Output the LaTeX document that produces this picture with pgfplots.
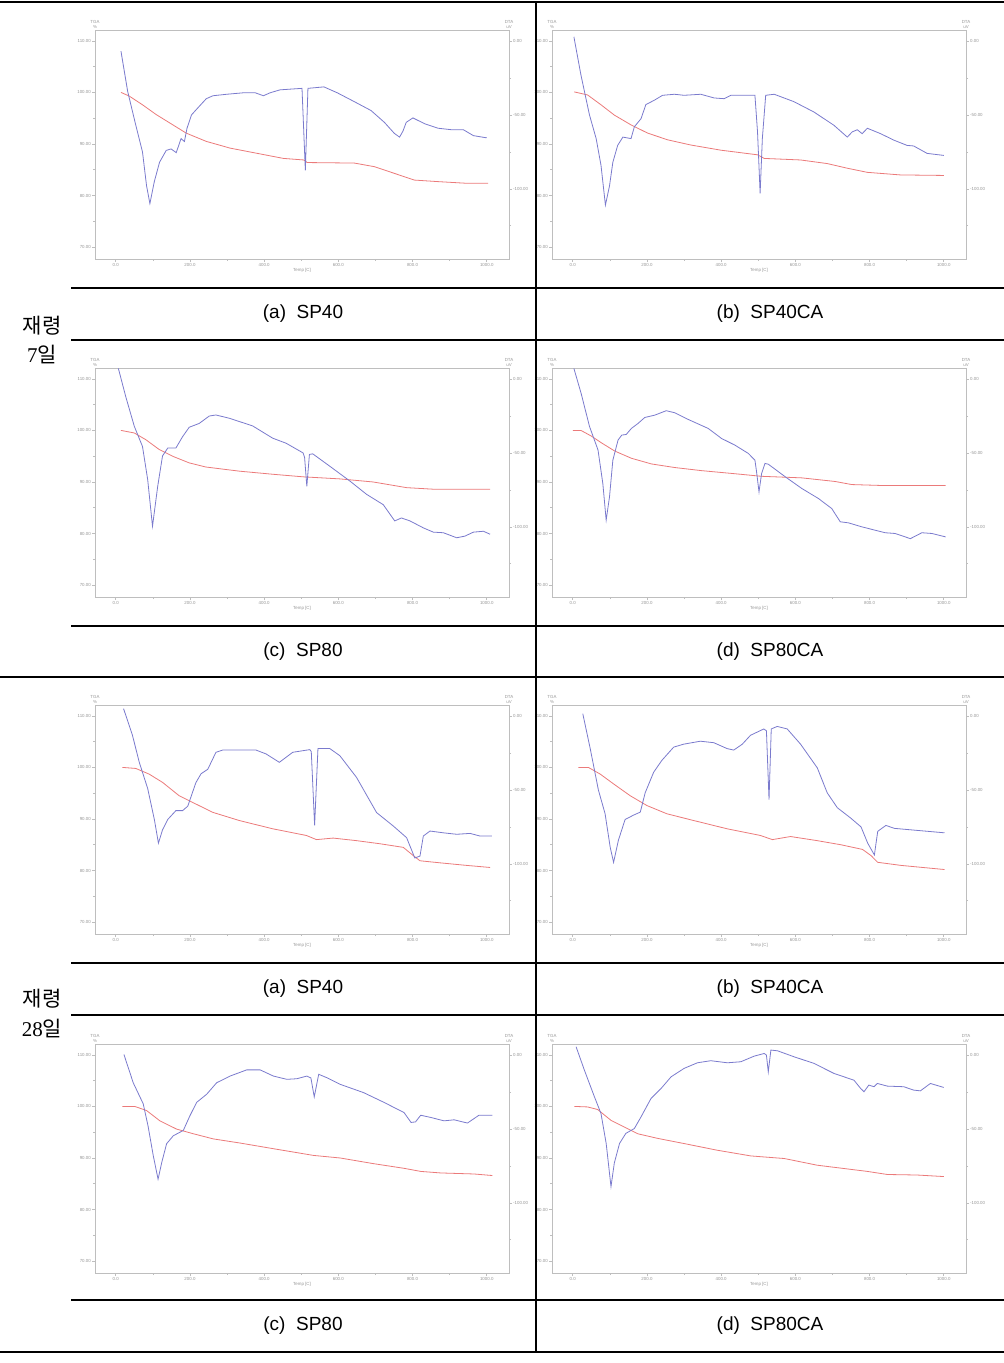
\documentclass[border=0pt]{standalone}
\usepackage{fontspec}
\setmainfont{Liberation Sans}
\newfontfamily\cjk{Noto Sans CJK KR}
\newfontfamily\serifdig{Liberation Serif}
\usepackage{pgfplots}
\pgfplotsset{compat=1.18}
\definecolor{axgray}{RGB}{190,190,190}
\definecolor{lblgray}{RGB}{150,150,150}
\definecolor{tgared}{RGB}{235,122,122}
\definecolor{dtablue}{RGB}{122,122,205}
\newcommand\tinyfont{\fontsize{2.2}{2.6}\selectfont}

\pgfplotsset{
 panelbase/.style={scale only axis, width=207pt, height=114.5pt, xmin=-56, xmax=1060, anchor=south west, clip=false,
   axis line style={draw=axgray, line width=0.35pt},
   every tick/.style={draw=axgray, line width=0.3pt},
   tick align=outside, major tick length=1.5pt, minor tick length=1pt,
   ticklabel style={font=\tinyfont, text=lblgray, inner sep=0.4pt},
   /pgf/number format/assume math mode=true,
   /pgf/number format/1000 sep={},
 },
 tga/.style={panelbase, ymin=67.7, ymax=112.1,
   xtick={0,200,400,600,800,1000}, minor xtick={100,300,500,700,900},
   ytick={70,80,90,100,110}, minor ytick={75,85,95,105},
   xtick pos=bottom, ytick pos=left,
   xticklabel={\pgfmathprintnumber[fixed,fixed zerofill,precision=1]{\tick}},
   yticklabel={\pgfmathprintnumber[fixed,fixed zerofill,precision=2]{\tick}},
   xlabel={Temp [C]}, xlabel style={font=\tinyfont, text=lblgray, inner sep=0.5pt},
 },
 dta/.style={panelbase, ymin=-147.5, ymax=7.5, axis y line*=right, axis x line=none,
   ytick={0,-50,-100}, minor ytick={-25,-75,-125},
   yticklabel={\pgfmathprintnumber[fixed,fixed zerofill,precision=2]{\tick}},
 },
}

\newcommand\panel[4]{%
 \begin{axis}[tga, at={(#1,#2)}]
   \addplot[tgared, line width=0.4pt, mark=none] coordinates {#3};
   \node[font=\tinyfont, text=lblgray, align=center, anchor=south, inner sep=0.6pt] at (rel axis cs:0,1) {TGA\\\%};
 \end{axis}
 \begin{axis}[dta, at={(#1,#2)}]
   \addplot[dtablue, line width=0.4pt, mark=none] coordinates {#4};
   \node[font=\tinyfont, text=lblgray, align=center, anchor=south, inner sep=0.6pt] at (rel axis cs:1,1) {DTA\\uV};
 \end{axis}}

\begin{document}
\begin{tikzpicture}
\path[use as bounding box] (0,0) rectangle (502pt,-681.5pt);

% ---------- 7 days ----------
\panel{47.5pt}{-129.5pt}
{(14,100.0)(36,99.3)(72,97.6)(109,95.7)(145,94.1)(190,92.1)(244,90.5)(308,89.2)(380,88.2)(452,87.2)(507,86.9)(516,86.4)(643,86.3)(697,85.6)(751,84.3)(805,83.0)(869,82.7)(941,82.4)(1004,82.4)}
{(14,-6.8)(32,-34)(54,-57)(72,-75)(83,-98)(92,-110)(104,-95)(118,-82)(136,-74)(149,-73)(163,-75.5)(176,-66)(185,-68)(192,-59)(204,-50)(222,-45)(244,-39)(262,-37)(299,-36)(344,-35)(376,-35)(398,-37)(416,-35)(443,-33)(502,-32)(511,-87.5)(518,-32)(561,-31)(597,-35)(643,-41)(688,-47)(724,-55)(751,-62.5)(765,-65)(774,-61)(783,-55)(801,-52)(833,-56)(869,-59)(905,-60)(937,-60)(964,-64)(1000,-65.5)}

\panel{276pt}{-129.5pt}
{(4,100.1)(40,99.5)(76,97.6)(112,95.6)(157,93.7)(202,92.1)(256,90.8)(318,89.8)(399,88.8)(498,87.9)(516,87.2)(614,86.9)(686,86.2)(740,85.3)(794,84.5)(883,84.0)(1000,83.9)}
{(3,2.9)(22,-23)(45,-50)(63,-66)(76,-84)(88,-111)(99,-98)(108,-82)(121,-70.6)(135,-65)(157,-66)(166,-58)(184,-52.5)(197,-43)(220,-40)(242,-36.7)(274,-36)(300,-36.7)(345,-36)(381,-38.5)(408,-39)(426,-36.7)(491,-36.7)(498,-61.5)(505,-103)(511,-66)(520,-36.7)(543,-36)(596,-41)(650,-48)(704,-57)(740,-65)(753,-61.5)(767,-60)(780,-62.7)(794,-59)(830,-62.7)(865,-67)(901,-70.6)(919,-71)(955,-76)(1000,-77.4)}

\panel{47.5pt}{-298.5pt}
{(14,100.0)(50,99.5)(81,98.2)(117,96.3)(153,95.0)(198,93.7)(243,92.9)(333,92.1)(423,91.5)(505,91.0)(604,90.6)(694,90.0)(784,88.9)(856,88.6)(1009,88.6)}
{(7,7.2)(27,-12)(50,-32)(72,-45.6)(86,-68)(99,-99.6)(113,-72.6)(126,-52)(140,-46.7)(162,-46.7)(180,-39)(198,-32.6)(225,-30)(252,-25)(270,-24.3)(306,-26.5)(369,-31.7)(423,-40)(459,-43.4)(505,-50)(509,-53)(515,-72.6)(522,-51)(531,-50.6)(577,-59)(631,-69)(676,-78)(721,-85)(752,-96)(770,-94)(793,-96)(829,-100.7)(856,-103.6)(883,-104)(919,-107.4)(941,-106.3)(964,-103.6)(991,-103)(1009,-105)}

\panel{276pt}{-298.5pt}
{(0,100)(22,100)(50,98.9)(77,97.6)(113,96.0)(158,94.6)(212,93.5)(275,92.8)(347,92.2)(437,91.6)(509,91.1)(617,90.8)(707,90.1)(752,89.5)(842,89.3)(1005,89.3)}
{(3,7.2)(22.5,-9.7)(45,-32)(68,-48)(81,-70.7)(90,-95.5)(99,-79.7)(108,-54.9)(122,-41.3)(132,-37.9)(144,-37.5)(158,-33.4)(176,-30)(194,-26)(221,-24.4)(252,-21.4)(275,-22.8)(311,-27.3)(365,-33.4)(401,-40.2)(437,-44.7)(473,-50.3)(491,-54.9)(495,-62)(502,-76.3)(509,-63.9)(518,-57.1)(527,-57.6)(572,-66)(617,-74)(662,-80.8)(698,-87.6)(721,-96.6)(743,-97.3)(779,-100)(842,-104)(869,-104.5)(910,-108)(941,-104)(968,-104.5)(1005,-106.8)}

% ---------- 28 days ----------
\panel{47.5pt}{-467pt}
{(18,100)(54,99.8)(90,98.7)(126,97.1)(171,94.5)(216,92.9)(261,91.3)(333,89.7)(423,88.1)(514,86.8)(541,86.0)(586,86.3)(649,85.8)(712,85.2)(775,84.5)(802,82.9)(820,81.9)(874,81.5)(946,81.0)(1009,80.6)}
{(21,5)(45,-13)(63,-31)(86,-49)(104,-70)(115,-86)(126,-77)(140,-70)(162,-64)(180,-64)(194,-61)(216,-45)(230,-39)(248,-36)(270,-24.5)(288,-23)(378,-23)(405,-25.6)(441,-31.3)(477,-24.5)(523,-22.7)(527,-24)(536,-74)(545,-22)(577,-22)(604,-26.8)(649,-41.5)(703,-65.3)(748,-74.4)(784,-82.3)(806,-96)(820,-94.8)(829,-81.2)(847,-77.8)(883,-79)(919,-80)(955,-79.4)(982,-81.2)(1014,-81.2)}

\panel{276pt}{-467pt}
{(15,100)(42,100)(74,98.7)(110,96.8)(155,94.5)(200,92.6)(254,91.0)(326,89.7)(416,88.1)(506,86.8)(538,86.0)(587,86.6)(659,85.8)(723,85.0)(781,84.1)(804,82.9)(822,81.6)(885,81.0)(1002,80.2)}
{(27,1.6)(47,-22)(69,-50)(87,-66)(101,-89)(110,-99)(123,-84)(141,-70)(164,-67)(182,-65)(195,-52)(218,-38)(240,-30)(272,-21)(299,-19)(344,-17)(380,-18)(416,-22)(434,-23)(457,-19)(479,-13)(515,-8.7)(522,-10)(529,-56.6)(535,-8.7)(551,-7)(578,-8.7)(614,-19)(659,-35)(686,-52)(713,-62)(749,-69)(777,-75)(795,-86)(813,-94)(822,-78)(844,-74)(867,-76)(912,-77)(957,-78)(1002,-79)}

\panel{47.5pt}{-636.5pt}
{(18,100)(51,100)(83,99.2)(119,97.2)(164,95.6)(209,94.7)(263,93.7)(335,92.9)(425,91.8)(533,90.5)(605,90.0)(695,88.9)(777,88.0)(822,87.4)(876,87.1)(966,86.9)(1015,86.6)}
{(22,0.4)(47,-18.7)(74,-33)(87,-48)(101,-68)(114,-84)(124,-72.6)(137,-60)(155,-54.6)(182,-51)(200,-41)(218,-32)(245,-26.5)(272,-18.7)(308,-14.2)(353,-10)(389,-10)(425,-14.2)(461,-16.4)(488,-16)(515,-14.2)(526,-15.5)(535,-28.3)(547,-13)(569,-15.3)(605,-19.8)(668,-25.4)(723,-32)(777,-38.9)(796,-45.6)(808,-45.2)(822,-40.7)(849,-42.2)(885,-44.5)(912,-43.8)(948,-46)(979,-40.7)(1015,-40.7)}

\panel{276pt}{-636.5pt}
{(4,100)(40,99.9)(67,99.4)(103,97.3)(139,96.0)(175,94.7)(229,93.8)(300,92.8)(390,91.5)(480,90.4)(570,89.9)(659,88.6)(749,87.8)(794,87.4)(848,86.8)(928,86.7)(1000,86.4)}
{(9,5.6)(31,-10)(58,-28)(76,-39.5)(90,-59.8)(103,-89)(112,-73)(126,-59.8)(143,-53)(166,-49.7)(184,-41.8)(211,-29.3)(238,-22.6)(265,-14.7)(300,-9)(336,-5.2)(372,-3.8)(417,-5.2)(453,-4.5)(489,-0.7)(516,1.1)(522,0)(527,-11.3)(534,3.4)(552,2.9)(596,-1.1)(650,-5.6)(704,-12.4)(758,-17)(776,-22.6)(785,-24.8)(798,-20.3)(812,-21.4)(821,-19.2)(848,-21)(892,-21.4)(919,-23.7)(937,-24.2)(964,-19.2)(1000,-21.9)}

% ---------- table rules and text ----------
\begin{scope}[x=0.5pt,y=-0.5pt]
 \draw[line width=0.7pt] (0,2)--(1004,2);
 \draw[line width=0.7pt] (0,677)--(1004,677);
 \draw[line width=0.7pt] (0,1352)--(1004,1352);
 \foreach \yy in {288,340,626,963,1015,1300}
   \draw[line width=0.7pt] (71,\yy)--(1004,\yy);
 \draw[line width=0.7pt] (536,2)--(536,1352);
 \begin{scope}[every node/.style={font=\fontsize{9.5}{11}\selectfont, inner sep=0pt}]
  \node at (303,314) {(a)\ \ SP40};
  \node at (770,314) {(b)\ \ SP40CA};
  \node at (303,652) {(c)\ \ SP80};
  \node at (770,652) {(d)\ \ SP80CA};
  \node at (303,989) {(a)\ \ SP40};
  \node at (770,989) {(b)\ \ SP40CA};
  \node at (303,1326) {(c)\ \ SP80};
  \node at (770,1326) {(d)\ \ SP80CA};
 \end{scope}
 \begin{scope}[every node/.style={font=\fontsize{10.5}{12}\selectfont, inner sep=0pt}]
  \node at (42,326) {\cjk 재령};
  \node at (42,355) {\serifdig 7\cjk 일};
  \node at (42,999) {\cjk 재령};
  \node at (42,1028) {\serifdig 28\cjk 일};
 \end{scope}
\end{scope}
\end{tikzpicture}
\end{document}
